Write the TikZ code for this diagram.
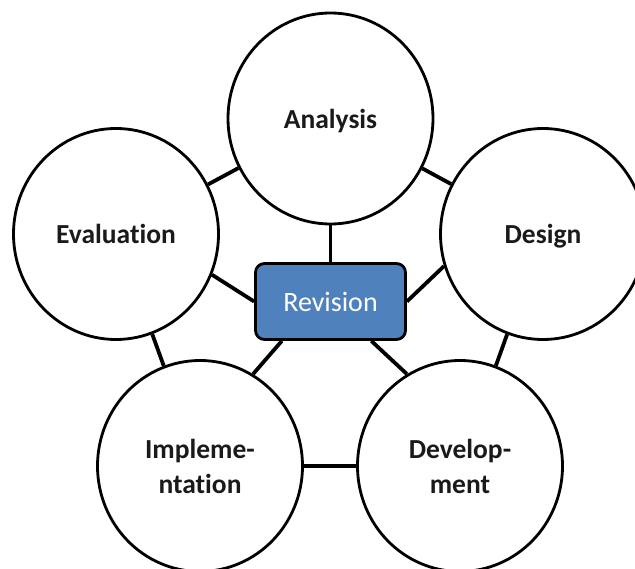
\documentclass[tikz,border=0pt]{standalone}
\usepackage{fontspec}
\setmainfont{Carlito}[Ligatures=NoCommon]
\usetikzlibrary{positioning,shapes.geometric}
\definecolor{revblue}{HTML}{4F81BD}
\definecolor{inkgray}{HTML}{1A1A1A}
\tikzset{
  phase/.style={
    ellipse, draw=black, fill=white, line width=2.8pt,
    minimum width=205pt, minimum height=211pt, inner sep=0pt,
    align=center, text=inkgray, text depth=0pt,
    font=\fontsize{27.5}{35}\selectfont\bfseries
  },
  hub/.style={
    rectangle, rounded corners=9pt, draw=black, fill=revblue,
    line width=2.8pt, minimum width=150pt, minimum height=76pt,
    text=white, font=\fontsize{28}{35}\selectfont
  },
  link/.style={
    line width=3.8pt, black
  }
}
\begin{document}
\begin{tikzpicture}[x=1pt,y=-1pt]
\useasboundingbox (0,0) rectangle (635,569);
% nodes
\node[hub] (rev) at (330.5,301.5) {Revision};
\node[phase] (ana) at (330.5,118.5) {Analysis};
\node[phase] (eva) at (116,234) {Evaluation};
\node[phase] (des) at (543,234) {Design};
\node[phase] (imp) at (200,466) {Impleme-\\ntation};
\node[phase] (dev) at (460,466) {Develop-\\ment};

% ring
\draw[link] (ana) -- (eva);
\draw[link] (ana) -- (des);
\draw[link] (eva) -- (imp);
\draw[link] (des) -- (dev);
\draw[link] (imp) -- (dev);

% spokes
\draw[link] (ana) -- (rev);
\draw[link] (eva.-23) -- (rev.west);
\draw[link] (rev.east) -- (des.198);
\draw[link] (rev.219) -- (imp.60);
\draw[link] (rev.-44) -- (dev.120);
\end{tikzpicture}
\end{document}
